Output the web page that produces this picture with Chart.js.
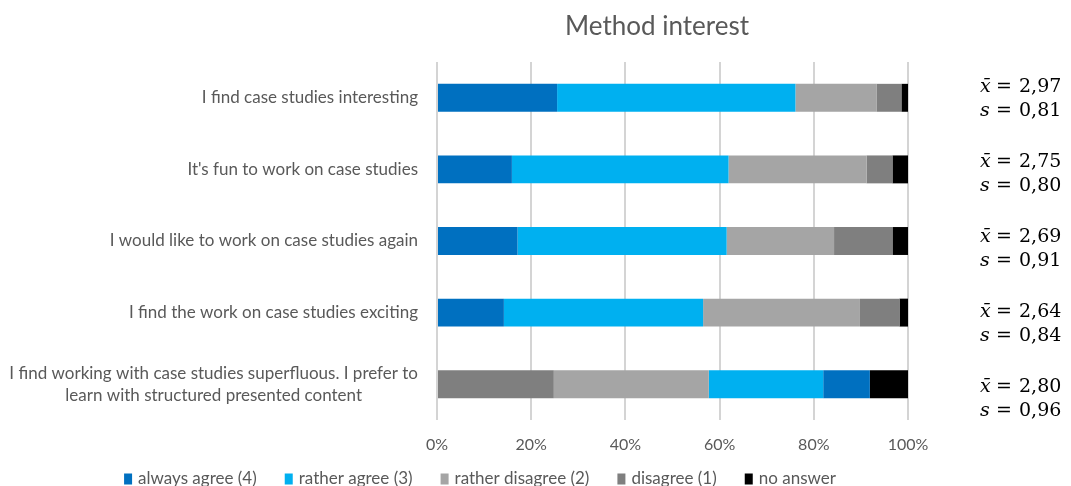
<!DOCTYPE html>
<html>
<head>
<meta charset="utf-8">
<script src="https://cdn.jsdelivr.net/npm/chart.js@4/dist/chart.umd.min.js"></script>
<style>
  html, body { margin: 0; padding: 0; background: #ffffff; }
  #wrap { width: 1071px; height: 486px; position: relative; }
</style>
</head>
<body>
<div id="wrap"><canvas id="methodChart"></canvas></div>
<script>
const categories = [
  'I find case studies interesting',
  "It's fun to work on case studies",
  'I would like to work on case studies again',
  'I find the work on case studies exciting',
  ['I find working with case studies superfluous. I prefer to', 'learn with structured presented content']
];
const seriesNames = ['always agree (4)', 'rather agree (3)', 'rather disagree (2)', 'disagree (1)', 'no answer'];

// percentages per item
const alwaysAgree    = [25.5, 15.9, 17.1, 14.2, 9.9];
const ratherAgree    = [50.6, 46.0, 44.4, 42.3, 24.3];
const ratherDisagree = [17.2, 29.3, 22.8, 33.3, 32.9];
const disagree       = [5.3, 5.5, 12.4, 8.4, 24.8];
const noAnswer       = [1.4, 3.3, 3.3, 1.8, 8.1];

const means = [2.97, 2.75, 2.69, 2.64, 2.80];
const stdDevs = [0.81, 0.80, 0.91, 0.84, 0.96];
const xTicks = [0, 20, 40, 60, 80, 100];

// last item is negatively worded, so its stack starts with "disagree"
const reversedItem = 4;

const seriesValues = [alwaysAgree, ratherAgree, ratherDisagree, disagree, noAnswer];
const seriesColors = ['#0070c0', '#00b0f0', '#a5a5a5', '#7f7f7f', '#000000'];
const textColor = '#595959';
const labelFont = 'Lato, "Open Sans", sans-serif';
const mathFont = '"DejaVu Serif", "Liberation Serif", serif';

function stackOrder(i) {
  return i === reversedItem ? [3, 2, 1, 0, 4] : [0, 1, 2, 3, 4];
}

const datasets = [0, 1, 2, 3, 4].map(pos => ({
  label: 'segment ' + pos,
  data: categories.map((_, i) => seriesValues[stackOrder(i)[pos]][i]),
  backgroundColor: categories.map((_, i) => seriesColors[stackOrder(i)[pos]]),
  borderWidth: 0,
  barPercentage: 0.39,
  categoryPercentage: 1
}));

function fmt(v) {
  return v.toFixed(2).replace('.', ',');
}

const extrasPlugin = {
  id: 'extras',
  afterDraw(chart) {
    const ctx = chart.ctx;
    const yScale = chart.scales.y;
    ctx.save();

    // title
    ctx.fillStyle = textColor;
    ctx.font = '26px ' + labelFont;
    ctx.textAlign = 'center';
    ctx.textBaseline = 'middle';
    ctx.fillText('Method interest', 657, 27);

    // category labels
    ctx.font = '17px ' + labelFont;
    categories.forEach((label, i) => {
      const lines = Array.isArray(label) ? label : [label];
      const maxW = Math.max(...lines.map(l => ctx.measureText(l).width));
      const cx = 418 - maxW / 2;
      const cy = yScale.getPixelForValue(i);
      const lh = 22;
      lines.forEach((line, k) => {
        ctx.fillText(line, cx, cy + (k - (lines.length - 1) / 2) * lh);
      });
    });

    // mean / sd annotations
    ctx.fillStyle = '#000000';
    categories.forEach((_, i) => {
      const y1 = yScale.getPixelForValue(i) - 11 + i * 3.4;
      const y2 = y1 + 24;
      ctx.textAlign = 'left';
      ctx.font = 'italic 19px ' + mathFont;
      ctx.fillText('x\u0304', 980, y1);
      ctx.fillText('s', 980, y2);
      ctx.font = '19px ' + mathFont;
      ctx.textAlign = 'center';
      ctx.fillText('=', 1004, y1);
      ctx.fillText('=', 1004, y2);
      ctx.textAlign = 'left';
      ctx.fillText(fmt(means[i]), 1019, y1);
      ctx.fillText(fmt(stdDevs[i]), 1019, y2);
    });

    // legend
    ctx.font = '17px ' + labelFont;
    ctx.textBaseline = 'middle';
    const boxW = 8, boxH = 11, boxGap = 6, itemGap = 28;
    const widths = seriesNames.map(n => ctx.measureText(n).width);
    const total = widths.reduce((a, w) => a + boxW + boxGap + w, 0) + itemGap * (seriesNames.length - 1);
    let x = 480 - total / 2;
    const ly = 479;
    seriesNames.forEach((name, k) => {
      ctx.fillStyle = seriesColors[k];
      ctx.fillRect(x, ly - boxH / 2, boxW, boxH);
      ctx.fillStyle = textColor;
      ctx.fillText(name, x + boxW + boxGap, ly);
      x += boxW + boxGap + widths[k] + itemGap;
    });

    ctx.restore();
  }
};

const ctx = document.getElementById('methodChart').getContext('2d');
new Chart(ctx, {
  type: 'bar',
  data: {
    labels: categories,
    datasets: datasets
  },
  options: {
    indexAxis: 'y',
    responsive: true,
    maintainAspectRatio: false,
    animation: false,
    layout: { padding: { left: 437, right: 163, top: 62, bottom: 0 } },
    scales: {
      x: {
        stacked: true,
        min: 0,
        max: 100,
        afterBuildTicks(scale) {
          scale.ticks = xTicks.map(v => ({ value: v }));
        },
        afterFit(scale) { scale.height = 66; },
        ticks: {
          callback: v => v + '%',
          color: textColor,
          font: { family: labelFont, size: 16 },
          padding: 15,
          maxRotation: 0
        },
        grid: { color: '#d4d4d4', lineWidth: 2, drawTicks: false },
        border: { display: false }
      },
      y: {
        stacked: true,
        afterFit(scale) { scale.width = 0; },
        ticks: { display: false },
        grid: { display: false },
        border: { display: false }
      }
    },
    plugins: {
      legend: { display: false },
      title: { display: false },
      tooltip: { enabled: false }
    }
  },
  plugins: [extrasPlugin]
});
</script>
</body>
</html>
